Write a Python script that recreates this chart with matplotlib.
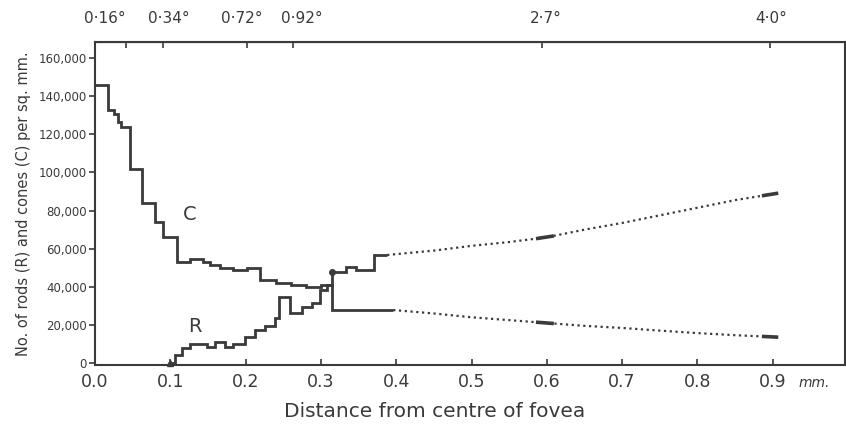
import numpy as np
import matplotlib
matplotlib.use("Agg")
import matplotlib.pyplot as plt

# cones (C): step edges in mm and density per sq. mm
c_edges = [0.0, 0.017, 0.025, 0.031, 0.035, 0.046, 0.062, 0.080, 0.090, 0.109,
           0.126, 0.143, 0.153, 0.166, 0.183, 0.202, 0.219, 0.240, 0.260, 0.280,
           0.300, 0.315, 0.333, 0.346, 0.371, 0.388]
c_vals = [146000, 133000, 130500, 126500, 124000, 102000, 84000, 74000, 66000, 53000,
          54500, 53000, 51500, 50000, 49000, 50000, 43500, 42000, 41000, 40000,
          41000, 47800, 50400, 49000, 56700]

# rods (R)
r_edges = [0.097, 0.106, 0.115, 0.126, 0.149, 0.159, 0.173, 0.183, 0.199, 0.212,
           0.226, 0.239, 0.245, 0.259, 0.275, 0.288, 0.299, 0.308, 0.315, 0.396]
r_vals = [0, 4200, 7900, 10000, 8400, 11000, 8400, 10000, 13600, 17300,
          19400, 23600, 34600, 26200, 29400, 31500, 38300, 41000, 27800]

# outer retina, dotted continuation
c_far_x = [0.388, 0.45, 0.50, 0.55, 0.60, 0.65, 0.70, 0.75, 0.80, 0.85, 0.905]
c_far_y = [56700, 59000, 61500, 63500, 66000, 70000, 73500, 77500, 81500, 85500, 89000]
r_far_x = [0.396, 0.45, 0.50, 0.55, 0.60, 0.65, 0.70, 0.75, 0.80, 0.85, 0.905]
r_far_y = [27800, 26000, 24000, 22500, 21000, 19500, 18400, 17000, 15700, 14600, 13600]

x_ticks = [0.0, 0.1, 0.2, 0.3, 0.4, 0.5, 0.6, 0.7, 0.8, 0.9]
x_ticklabels = ["0.0", "0.1", "0.2", "0.3", "0.4", "0.5", "0.6", "0.7", "0.8", "0.9"]
y_ticks = [0, 20000, 40000, 60000, 80000, 100000, 120000, 140000, 160000]
y_ticklabels = ["0", "20,000", "40,000", "60,000", "80,000", "100,000",
                "120,000", "140,000", "160,000"]

top_ticks = [0.041, 0.090, 0.202, 0.263, 0.594, 0.896]
top_label_x = [0.013, 0.098, 0.195, 0.274, 0.599, 0.898]
top_labels = ["0·16°", "0·34°", "0·72°", "0·92°", "2·7°", "4·0°"]

ink = "#3a3a3a"

fig = plt.figure(figsize=(8.46, 4.25), dpi=100)
ax = fig.add_axes([95 / 846, 1 - 365 / 425, 750 / 846, (365 - 42) / 425])

ax.stairs(c_vals, c_edges, color=ink, lw=2.0, baseline=None)
ax.stairs(r_vals, r_edges, color=ink, lw=2.0, baseline=None)
ax.plot(c_far_x, c_far_y, color=ink, lw=1.6, ls=(0, (1, 1.6)))
ax.plot(r_far_x, r_far_y, color=ink, lw=1.6, ls=(0, (1, 1.6)))

# short solid marks on the dotted lines
for xs, ys in [(c_far_x, c_far_y), (r_far_x, r_far_y)]:
    for a, b in [(0.588, 0.607), (0.888, 0.905)]:
        seg = np.array([a, b])
        ax.plot(seg, np.interp(seg, xs, ys), color=ink, lw=2.6)

ax.plot([0.315], [47800], "o", color=ink, ms=4)
ax.plot([0.1], [0], "^", color=ink, ms=4, clip_on=False)

ax.text(0.126, 77700, "C", fontsize=14, color=ink, ha="center", va="center")
ax.text(0.133, 19000, "R", fontsize=14, color=ink, ha="center", va="center")

ax.set_xlim(0, 0.996)
ax.set_ylim(-1050, 168500)

ax.set_xticks(x_ticks)
ax.set_xticklabels(x_ticklabels, fontsize=12.5, color=ink)
ax.set_yticks(y_ticks)
ax.set_yticklabels(y_ticklabels, fontsize=8.5, color=ink)
ax.tick_params(axis="x", direction="in", length=4, width=1.2, pad=6, colors=ink)
ax.tick_params(axis="y", direction="out", length=4, width=1.2, pad=2, colors=ink)
ax.tick_params(axis="y", right=True, which="both")
for sp in ax.spines.values():
    sp.set_color(ink)
    sp.set_linewidth(1.5)

ax.text(0.934, -0.055, "mm.", transform=ax.get_xaxis_transform(),
        fontsize=10, style="italic", color=ink, ha="left", va="center")

top = ax.secondary_xaxis("top")
top.set_xticks(top_ticks)
top.set_xticklabels([])
top.tick_params(direction="in", length=4, width=1.2, colors=ink)
for xl, lab in zip(top_label_x, top_labels):
    ax.text(xl, 1.05, lab, transform=ax.get_xaxis_transform(), fontsize=11,
            color=ink, ha="center", va="bottom")

ax.set_xlabel("Distance from centre of fovea", fontsize=14.5, color=ink)
ax.xaxis.set_label_coords((435 - 95) / 750, -0.115)
ax.set_ylabel("No. of rods (R) and cones (C) per sq. mm.", fontsize=10.5, color=ink)
ax.yaxis.set_label_coords(-0.085, 0.5)

fig.savefig("out.png", dpi=100)
